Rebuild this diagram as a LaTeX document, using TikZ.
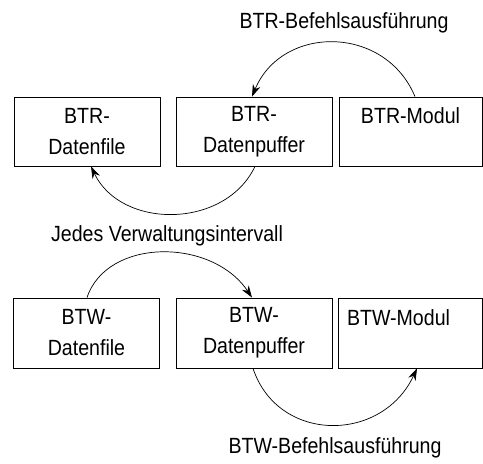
\documentclass[tikz,border=0pt]{standalone}
\usepackage{fontspec}
\setmainfont{Liberation Sans}[FakeStretch=0.89]
\usetikzlibrary{arrows.meta}

\tikzset{
  feld/.style={draw, line width=0.8pt, inner sep=0pt, align=center},
  pfeil/.style={line width=0.7pt, -{Stealth[length=12pt,width=8pt]}},
  txt/.style={inner sep=0pt}
}

\begin{document}
\begin{tikzpicture}[x=1pt,y=-1pt,font=\fontsize{22}{31}\selectfont]
  \useasboundingbox (0,0) rectangle (483,464);
  % BTR
  \node[feld, minimum width=146pt, minimum height=69pt] (rfile) at (87,131.5) {BTR-\\Datenfile};
  \node[feld, minimum width=156pt, minimum height=69pt] (rbuf) at (254,131.5) {BTR-\\Datenpuffer};
  \node[feld, minimum width=143pt, minimum height=69pt] (rmod) at (410.5,131.5) {BTR-Modul\\\mbox{}};
  \node[txt] (rbefehl) at (344,22.5) {BTR-Befehlsausführung};
  \draw[pfeil] ([xshift=4.5pt]rmod.north) .. controls +(-30,-72) and +(30,-72) .. ([xshift=-2pt]rbuf.north);
  \draw[pfeil] ([xshift=1pt]rbuf.south) .. controls +(-30,63) and +(30,63) .. ([xshift=4pt]rfile.south);
  % Intervall
  \node[txt] (intervall) at (167,236) {Jedes Verwaltungsintervall};
  % BTW
  \node[feld, minimum width=146pt, minimum height=70pt] (wfile) at (86.5,333) {BTW-\\Datenfile};
  \node[feld, minimum width=156pt, minimum height=70pt] (wbuf) at (254,333) {BTW-\\Datenpuffer};
  \node[feld, minimum width=144pt, minimum height=70pt] (wmod) at (410.5,333) {BTW-Modul\hspace*{24pt}\\\mbox{}};
  \node[txt] (wbefehl) at (335,447.5) {BTW-Befehlsausführung};
  \draw[pfeil] ([xshift=0.5pt]wfile.north) .. controls +(20,-60) and +(-40,-60) .. ([xshift=-2pt]wbuf.north);
  \draw[pfeil] ([xshift=-1pt]wbuf.south) .. controls +(25,75) and +(-35,75) .. ([xshift=6.5pt]wmod.south);
\end{tikzpicture}
\end{document}
